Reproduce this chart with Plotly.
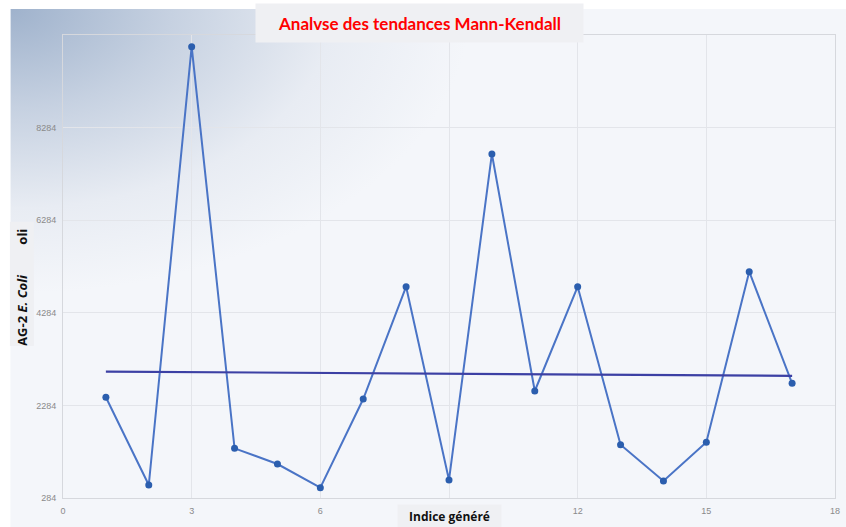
import base64
import plotly.graph_objects as go

# ---- data ----
x_index = list(range(1, 18))
ecoli_values = [2459, 565, 10031, 1357, 1018, 506, 2422, 4848, 673, 7714,
                2595, 4848, 1435, 651, 1487, 5172, 2761]
trend_x = [1, 17]
trend_values = [3015, 2922]
y_tick_vals = [284, 2284, 4284, 6284, 8284]
x_tick_vals = [0, 3, 6, 9, 12, 15, 18]

title_text = "Analvse des tendances Mann-Kendall"
x_title = "Indice généré"
NB = "\u00a0"
y_title = "<b>AG-2 <i>E." + NB + "Coli</i>" + NB * 9 + "oli" + NB * 2 + "</b>"

SX = 851 / 846  # compensation for horizontal capture scaling
W, H = 851, 527
ML, MR, MT, MB = 63, 11, 35, 29
PW, PH = W - ML - MR, H - MT - MB
BG_X0, BG_Y0 = 10, 9  # start of the light panel (white strip above/left)


def px_to_paper_x(px):
    return (px * SX - ML) / PW


def px_to_paper_y(py):
    return (H - MB - py) / PH


# background gradient (decorative)
bw, bh = W - BG_X0 * SX, H - BG_Y0
svg = (
    f"<svg xmlns='http://www.w3.org/2000/svg' width='{bw:.0f}' height='{bh}' viewBox='0 0 {bw:.0f} {bh}' preserveAspectRatio='none'>"
    "<defs><radialGradient id='g' cx='0' cy='0' r='0.55' gradientUnits='objectBoundingBox'>"
    "<stop offset='0' stop-color='#9fb2cc'/>"
    "<stop offset='0.35' stop-color='#c6d1e1'/>"
    "<stop offset='0.7' stop-color='#e8ecf3'/>"
    "<stop offset='1' stop-color='#f4f6fa'/>"
    "</radialGradient></defs>"
    f"<rect width='{bw:.0f}' height='{bh}' fill='#f4f6fa'/>"
    f"<rect width='{bw:.0f}' height='{bh}' fill='url(#g)'/></svg>"
)
svg_uri = "data:image/svg+xml;base64," + base64.b64encode(svg.encode()).decode()

fig = go.Figure()
fig.add_trace(go.Scatter(
    x=x_index, y=ecoli_values, mode="lines+markers",
    line=dict(color="#4a74c6", width=2),
    marker=dict(color="#2b5eae", size=7),
    showlegend=False,
))
fig.add_trace(go.Scatter(
    x=trend_x, y=trend_values, mode="lines",
    line=dict(color="#3c40a4", width=2.2),
    showlegend=False,
))

tick_font = dict(family="Liberation Sans, Arial", size=9, color="#8a8a8a")
axis_common = dict(
    showgrid=True, gridcolor="#e3e5ea", gridwidth=1,
    showline=True, linecolor="#d6d8dd", linewidth=1, mirror=True,
    zeroline=False, ticks="outside", tickcolor="rgba(0,0,0,0)", ticklen=4,
    tickfont=tick_font,
)

fig.update_layout(
    width=W, height=H,
    margin=dict(l=ML, r=MR, t=MT, b=MB),
    paper_bgcolor="white",
    plot_bgcolor="rgba(0,0,0,0)",
    xaxis=dict(range=[0, 18], tickvals=x_tick_vals, **axis_common),
    yaxis=dict(range=[284, 10284], tickvals=y_tick_vals, **axis_common),
    images=[dict(
        source=svg_uri, xref="paper", yref="paper",
        x=px_to_paper_x(BG_X0), y=px_to_paper_y(BG_Y0),
        sizex=bw / PW, sizey=bh / PH,
        xanchor="left", yanchor="top", sizing="stretch", layer="below",
    )],
    annotations=[
        dict(
            text="<b>" + title_text + "</b>", xref="paper", yref="paper",
            x=px_to_paper_x(419.5), y=px_to_paper_y(23),
            xanchor="center", yanchor="middle", showarrow=False,
            font=dict(family="Lato, Open Sans", size=17, color="#ff0000"),
            bgcolor="#eff0f3", width=round(325 * SX), height=38, borderpad=0,
        ),
        dict(
            text="<b>" + x_title + "</b>", xref="paper", yref="paper",
            x=px_to_paper_x(449), y=px_to_paper_y(516),
            xanchor="center", yanchor="middle", showarrow=False,
            font=dict(family="Open Sans", size=12, color="#111111"),
            bgcolor="#eff0f3", width=round(102 * SX), height=22, borderpad=0,
        ),
        dict(
            text=y_title, xref="paper", yref="paper",
            x=px_to_paper_x(21.5), y=px_to_paper_y(283.5),
            xanchor="center", yanchor="middle", showarrow=False, textangle=-90,
            font=dict(family="Open Sans", size=13, color="#111111"),
            bgcolor="#eff0f3", width=123, height=23, borderpad=0,
        ),
    ],
)

fig.write_html(
    "out.html",
    config={"displayModeBar": False},
    post_script="document.body.style.margin='0';document.body.style.overflow='hidden';",
)
